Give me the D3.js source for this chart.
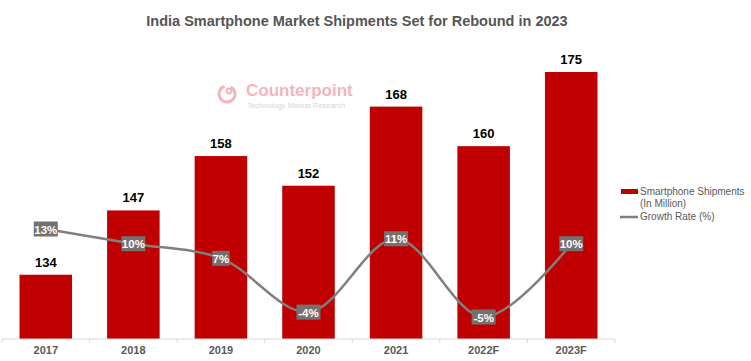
<!DOCTYPE html>
<html>
<head>
<meta charset="utf-8">
<script src="https://cdn.jsdelivr.net/npm/d3@7"></script>
<style>
  body { margin: 0; background: #fff; }
  svg { font-family: "Liberation Sans", Arial, sans-serif; }
</style>
</head>
<body>
<div id="chart"></div>
<script>
var years = ["2017", "2018", "2019", "2020", "2021", "2022F", "2023F"];
var shipments = [134, 147, 158, 152, 168, 160, 175];
var growth = [13, 10, 7, -4, 11, -5, 10];

var width = 751, height = 361;

var svg = d3.select("#chart").append("svg")
    .attr("width", width)
    .attr("height", height);

// title
svg.append("text")
    .attr("x", 357).attr("y", 26)
    .attr("text-anchor", "middle")
    .attr("font-size", 14.5)
    .attr("font-weight", "bold")
    .attr("fill", "#555")
    .text("India Smartphone Market Shipments Set for Rebound in 2023");

// watermark
var logo = svg.append("g").attr("opacity", 0.35);
logo.append("path")
    .attr("d", d3.arc()({innerRadius: 6.5, outerRadius: 9.5, startAngle: 0.5, endAngle: 2 * Math.PI - 0.3}))
    .attr("transform", "translate(227,94)")
    .attr("fill", "#e8283a");
logo.append("circle").attr("cx", 229).attr("cy", 91).attr("r", 2.5)
    .attr("fill", "none").attr("stroke", "#e8283a").attr("stroke-width", 1.8);
logo.append("text").attr("x", 246).attr("y", 96)
    .attr("font-size", 17).attr("font-weight", "bold").attr("fill", "#e8283a")
    .text("Counterpoint");
logo.append("text").attr("x", 247).attr("y", 108)
    .attr("font-size", 7.6).attr("fill", "#888")
    .text("Technology Market Research");

var x = d3.scaleBand().domain(years).range([2, 615]).paddingInner(0.4).paddingOuter(0.2);
var y = d3.scaleLinear().domain([121, 175]).range([339, 72]);
var y2 = d3.scaleLinear().domain([-5, 13]).range([317, 229]);

// bars
svg.append("g").selectAll("rect")
    .data(shipments)
    .enter().append("rect")
    .attr("x", function(d, i) { return x(years[i]); })
    .attr("y", function(d) { return y(d); })
    .attr("width", x.bandwidth())
    .attr("height", function(d) { return y(121) - y(d); })
    .attr("fill", "#c00000");

svg.append("g").selectAll("text")
    .data(shipments)
    .enter().append("text")
    .attr("x", function(d, i) { return x(years[i]) + x.bandwidth() / 2; })
    .attr("y", function(d) { return y(d) - 8; })
    .attr("text-anchor", "middle")
    .attr("font-size", 13)
    .attr("font-weight", "bold")
    .attr("fill", "#000")
    .text(function(d) { return d; });

// x axis
var axis = svg.append("g").attr("transform", "translate(0,339)");
axis.append("line").attr("x1", 2).attr("x2", 615).attr("stroke", "#d9d9d9");
var step = x.step();
axis.selectAll(".tk")
    .data(d3.range(years.length + 1))
    .enter().append("line")
    .attr("x1", function(i) { return 2 + i * step; })
    .attr("x2", function(i) { return 2 + i * step; })
    .attr("y1", 0).attr("y2", 4)
    .attr("stroke", "#d9d9d9");
axis.selectAll(".lbl")
    .data(years)
    .enter().append("text")
    .attr("x", function(d) { return x(d) + x.bandwidth() / 2; })
    .attr("y", 15)
    .attr("text-anchor", "middle")
    .attr("font-size", 11)
    .attr("font-weight", "bold")
    .attr("fill", "#595959")
    .text(function(d) { return d; });

// growth line
var line = d3.line()
    .x(function(d, i) { return x(years[i]) + x.bandwidth() / 2; })
    .y(function(d) { return y2(d); })
    .curve(d3.curveCatmullRom.alpha(0.5));

svg.append("path")
    .datum(growth)
    .attr("d", line)
    .attr("fill", "none")
    .attr("stroke", "#7f7f7f")
    .attr("stroke-width", 2.5);

var gl = svg.append("g").selectAll("g")
    .data(growth)
    .enter().append("g")
    .attr("transform", function(d, i) {
        return "translate(" + (x(years[i]) + x.bandwidth() / 2) + "," + y2(d) + ")";
    });
gl.append("rect")
    .attr("x", function(d) { return -(String(d).length * 6.5 + 11) / 2; })
    .attr("y", -7.5)
    .attr("width", function(d) { return String(d).length * 6.5 + 11; })
    .attr("height", 15)
    .attr("fill", "#767171");
gl.append("text")
    .attr("y", 4.5)
    .attr("text-anchor", "middle")
    .attr("font-size", 11.5)
    .attr("font-weight", "bold")
    .attr("fill", "#fff")
    .text(function(d) { return d + "%"; });

// legend
var lg = svg.append("g").attr("font-size", 10).attr("fill", "#595959");
lg.append("rect").attr("x", 621).attr("y", 189).attr("width", 17).attr("height", 5).attr("fill", "#c00000");
lg.append("text").attr("x", 640).attr("y", 195).attr("fill", "#595959").text("Smartphone Shipments");
lg.append("text").attr("x", 640).attr("y", 207).attr("fill", "#595959").text("(In Million)");
lg.append("line").attr("x1", 620).attr("x2", 638).attr("y1", 217).attr("y2", 217)
    .attr("stroke", "#7f7f7f").attr("stroke-width", 2.5);
lg.append("text").attr("x", 640).attr("y", 220).attr("fill", "#595959").text("Growth Rate (%)");
</script>
</body>
</html>
